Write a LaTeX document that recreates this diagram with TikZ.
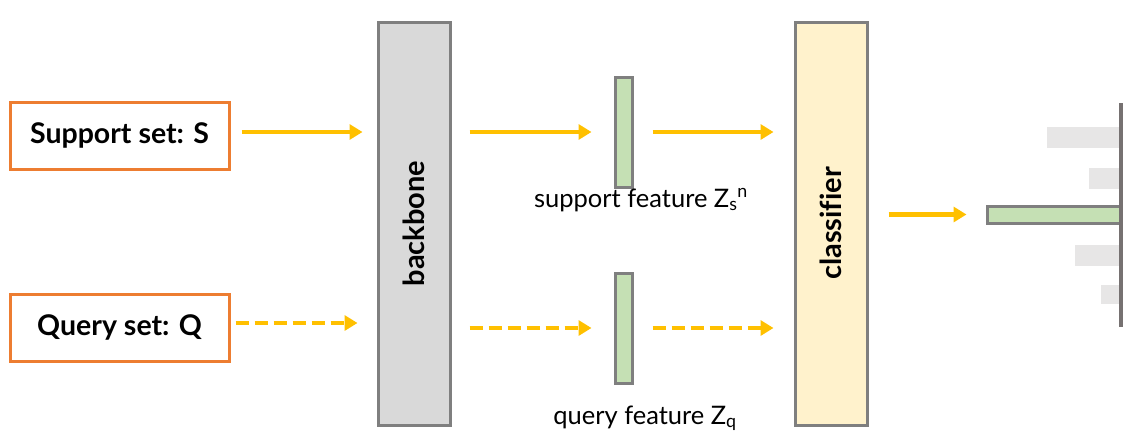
\documentclass[tikz,border=0pt]{standalone}
\usepackage{fontspec}
\setmainfont[Ligatures=NoCommon]{Lato}
\usetikzlibrary{arrows.meta}
\definecolor{setorange}{HTML}{ED7D31}
\definecolor{flowyellow}{HTML}{FFC000}
\definecolor{edgegray}{HTML}{7F7F7F}
\definecolor{bbgray}{HTML}{D9D9D9}
\definecolor{featgreen}{HTML}{C5E0B4}
\definecolor{clscream}{HTML}{FFF2CC}
\definecolor{scoregray}{HTML}{E7E6E6}
\definecolor{axisgray}{HTML}{767171}
\begin{document}
\begin{tikzpicture}[x=1pt,y=-1pt,
    setbox/.style={draw=setorange,line width=3pt,fill=white,minimum width=219pt,minimum height=67pt,font=\fontsize{28.5}{31}\selectfont\bfseries},
    block/.style={draw=edgegray,line width=3pt,minimum width=72pt,minimum height=403pt},
    feat/.style={draw=edgegray,line width=3pt,fill=featgreen,minimum width=17pt,minimum height=110pt},
    flow/.style={flowyellow,line width=4.5pt,-{Triangle[length=13pt,width=15pt]}},
    qflow/.style={flow,dash pattern=on 13pt off 6pt},
    feattext/.style={font=\fontsize{25.5}{28}\selectfont,anchor=base},
    blocktext/.style={rotate=90,font=\fontsize{29}{32}\selectfont\bfseries},
    inner sep=0pt]
    \useasboundingbox (0,0) rectangle (1141,447);
    %% inputs
    \node[setbox] (sup) at (119.5,135.5) {Support set: S};
    \node[setbox] (qry) at (119.5,327.5) {Query set: Q};
    %% backbone
    \node[block,fill=bbgray] (bb) at (414,223.5) {};
    \node[blocktext] (bbtext) at (bb) {backbone};
    %% features
    \node[feat] (fs) at (623.5,132) {};
    \node[feat] (fq) at (623.5,328) {};
    \node[feattext] (fslabel) at (641,207) {support feature Z\textsubscript{s}\textsuperscript{n}};
    \node[feattext] (fqlabel) at (645,424) {query feature Z\textsubscript{q}};
    %% classifier
    \node[block,fill=clscream] (cls) at (831,223.5) {};
    \node[blocktext] (clstext) at (cls) {classifier};
    %% scores
    \node[fill=scoregray,minimum width=73pt,minimum height=21pt,anchor=east] (s1) at (1120,137.5) {};
    \node[fill=scoregray,minimum width=31pt,minimum height=21pt,anchor=east] (s2) at (1120,178.5) {};
    \node[fill=scoregray,minimum width=45pt,minimum height=21pt,anchor=east] (s4) at (1120,255.5) {};
    \node[fill=scoregray,minimum width=19pt,minimum height=19pt,anchor=east] (s5) at (1120,294.5) {};
    \node[draw=edgegray,line width=3pt,fill=featgreen,minimum width=134pt,minimum height=17pt] (out) at (1054,214.5) {};
    \coordinate (axtop) at (1121,103);
    \coordinate (axbot) at (1121,327);
    \draw[axisgray,line width=4pt] (axtop) -- (axbot);
    %% arrows
    \draw[flow] ([xshift=11pt]sup.east |- fs.west) -- ([xshift=-14pt]bb.west |- fs.west);
    \draw[flow] ([xshift=18pt]bb.east |- fs.west) -- ([xshift=-22pt]fs.west);
    \draw[flow] ([xshift=19pt]fs.east) -- ([xshift=-20pt]cls.west |- fs.east);
    \draw[qflow] ([xshift=5pt]qry.east |- 0,323) -- ([xshift=-19pt]bb.west |- 0,323);
    \draw[qflow] ([xshift=18pt]bb.east |- fq.west) -- ([xshift=-22pt]fq.west);
    \draw[qflow] ([xshift=19pt]fq.east) -- ([xshift=-20pt]cls.west |- fq.east);
    \draw[flow] ([xshift=20pt]cls.east |- out.west) -- ([xshift=-19pt]out.west);
\end{tikzpicture}
\end{document}
